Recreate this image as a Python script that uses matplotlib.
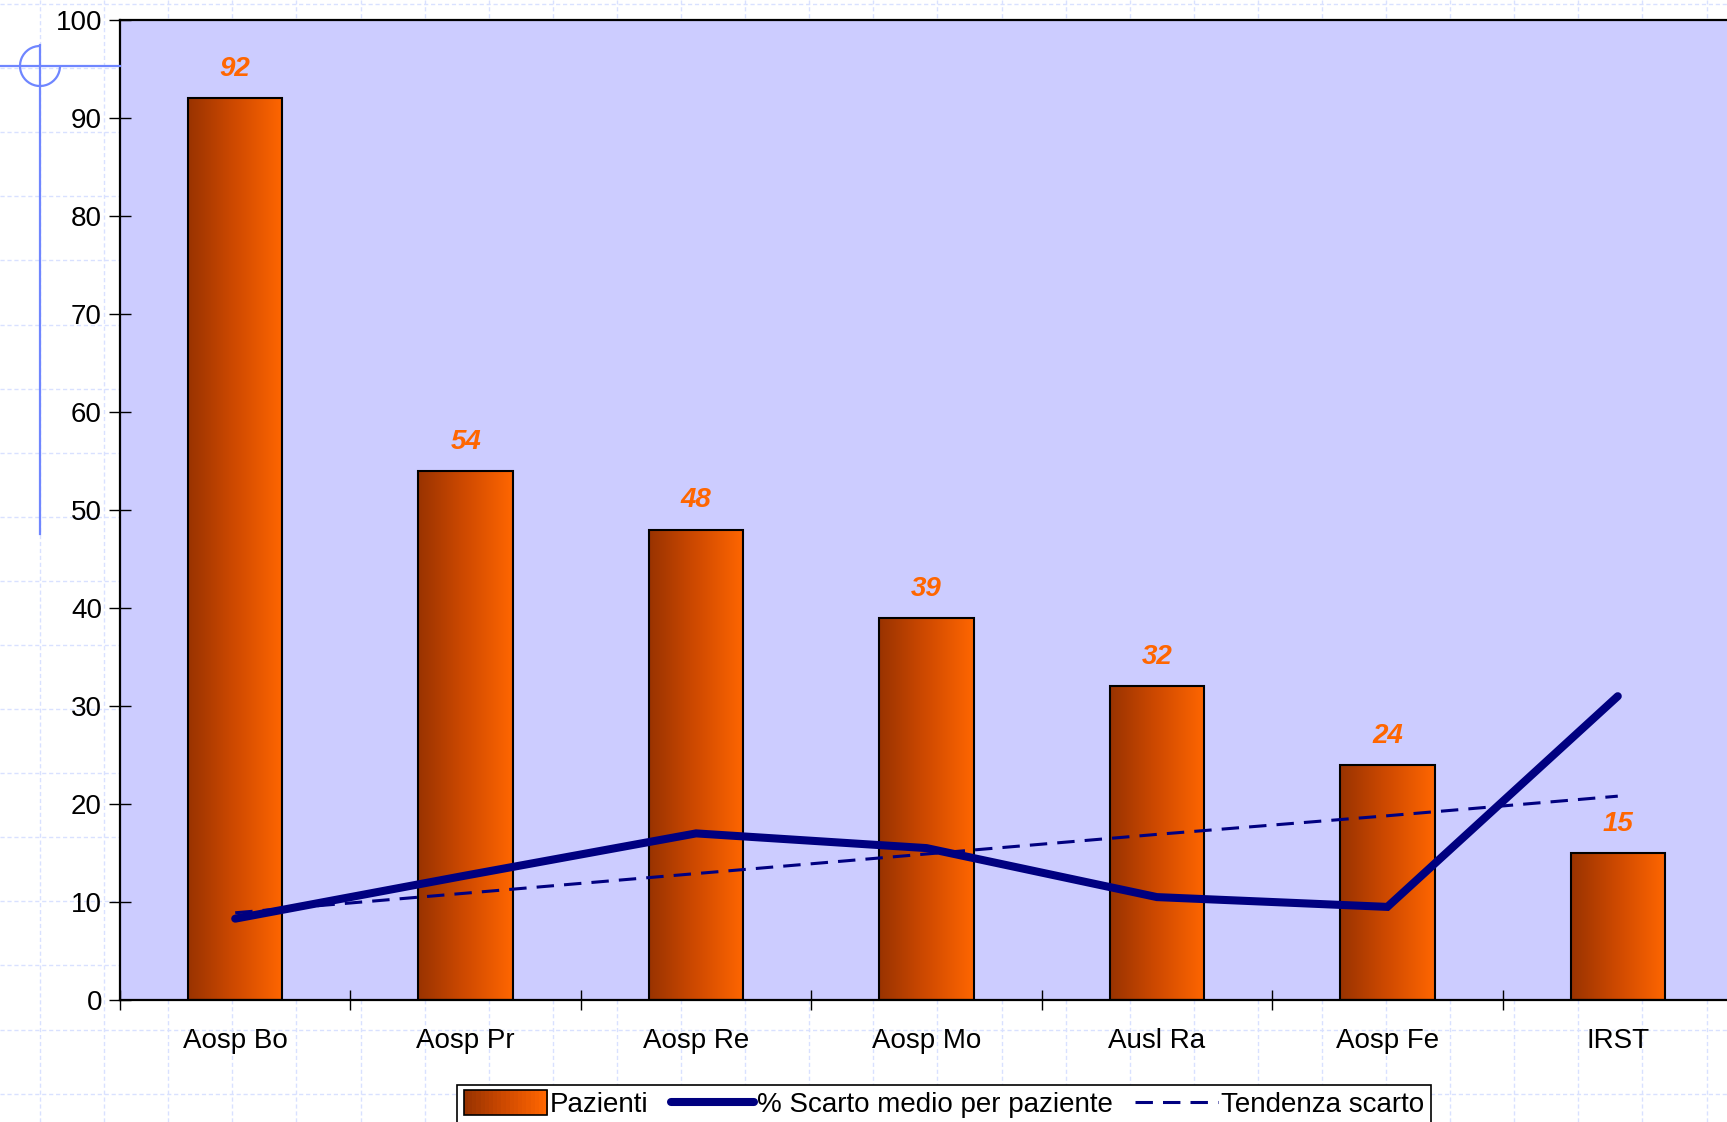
import numpy as np
import matplotlib
matplotlib.use("Agg")
import matplotlib.pyplot as plt
from matplotlib.colors import LinearSegmentedColormap
from matplotlib.lines import Line2D
from matplotlib.patches import Rectangle, Arc
from matplotlib.legend_handler import HandlerBase

plt.rcParams['font.family'] = ['Liberation Sans', 'DejaVu Sans']
plt.rcParams['font.size'] = 20

# data
categories = ['Aosp Bo', 'Aosp Pr', 'Aosp Re', 'Aosp Mo', 'Ausl Ra', 'Aosp Fe', 'IRST']
pazienti = [92, 54, 48, 39, 32, 24, 15]
scarto = [8.3, 12.7, 17.0, 15.5, 10.5, 9.5, 31.0]
tendenza = [8.9, 10.9, 12.9, 14.9, 16.9, 18.8, 20.8]

W, H = 1727, 1122
fig = plt.figure(figsize=(W / 100, H / 100), dpi=100)
fig.patch.set_facecolor('white')

# slide background grid (light blue dashed)
grid_c = '#d9e1ff'
for gx in np.arange(40, W, 64.1):
    fig.add_artist(Line2D([gx / W, gx / W], [0, 1], color=grid_c, lw=1,
                          ls=(0, (3, 2)), zorder=0))
for gy in np.arange(4, H, 64.1):
    fig.add_artist(Line2D([0, 1], [1 - gy / H, 1 - gy / H], color=grid_c, lw=1,
                          ls=(0, (3, 2)), zorder=0))

# crosshair decoration
cross_c = '#6f86ff'
fig.add_artist(Line2D([0, 120 / W], [1 - 66 / H, 1 - 66 / H], color=cross_c, lw=1.6, zorder=1))
fig.add_artist(Line2D([40 / W, 40 / W], [1 - 45 / H, 1 - 534 / H], color=cross_c, lw=1.6, zorder=1))
fig.add_artist(Arc((40 / W, 1 - 66 / H), 40 / W, 40 / H, theta1=90, theta2=360,
                   color=cross_c, lw=1.6, transform=fig.transFigure, zorder=1))

ax = fig.add_axes([120 / W, 1 - 1000 / H, 1613 / W, 980 / H])
ax.set_facecolor('#ccccff')

x = np.arange(len(categories))
w = 0.41
cmap = LinearSegmentedColormap.from_list('bar', ['#993300', '#d04a00', '#ff6600'])
grad = np.linspace(0, 1, 256).reshape(1, -1)
for xi, v in zip(x, pazienti):
    ax.imshow(grad, extent=[xi - w / 2, xi + w / 2, 0, v], aspect='auto',
              cmap=cmap, zorder=2, interpolation='bicubic')
ax.bar(x, pazienti, width=w, facecolor='none', edgecolor='black', lw=1.5, zorder=3)

for xi, v in zip(x, pazienti):
    ax.annotate(str(v), (xi, v), xytext=(0, 21), textcoords='offset points',
                ha='center', va='center', color='#ff6600', fontweight='bold',
                fontstyle='italic', fontsize=20, zorder=5)

ax.plot(x, scarto, color='#000080', lw=5.8, solid_capstyle='round',
        solid_joinstyle='miter', zorder=4)
ax.plot(x, tendenza, color='#000080', lw=2.2, dashes=(5.7, 3.3), zorder=4)

ax.set_xlim(-0.5, 6.5)
ax.set_ylim(0, 100)
ax.set_yticks(np.arange(0, 101, 10))
ax.set_xticks(x)
ax.set_xticklabels(categories)
ax.set_xticks(np.arange(-0.5, 6.6, 1), minor=True)
ax.tick_params(axis='x', which='major', length=0, pad=20, labelsize=20)
ax.tick_params(axis='x', which='minor', direction='inout', length=14, width=1)
ax.tick_params(axis='y', direction='inout', length=16, width=1, pad=5, labelsize=20)
for s in ax.spines.values():
    s.set_linewidth(1.6)
    s.set_color('black')


class GradientHandler(HandlerBase):
    def create_artists(self, legend, orig_handle, xd, yd, width, height, fontsize, trans):
        arts = []
        n = 20
        for k in range(n):
            r = Rectangle((xd + width * k / n, yd - 2), width / n + 0.3, height + 4,
                          facecolor=cmap(k / (n - 1)), edgecolor='none', transform=trans)
            arts.append(r)
        arts.append(Rectangle((xd, yd - 2), width, height + 4, facecolor='none',
                              edgecolor='black', lw=1.2, transform=trans))
        return arts


bar_handle = Rectangle((0, 0), 1, 1)
line_handle = Line2D([], [], color='#000080', lw=5.8, solid_capstyle='round')
dash_handle = Line2D([], [], color='#000080', lw=2.2, dashes=(5.7, 3.3))
leg = fig.legend([bar_handle, line_handle, dash_handle],
                 ['Pazienti', '% Scarto medio per paziente', 'Tendenza scarto'],
                 handler_map={Rectangle: GradientHandler()},
                 loc='upper left', bbox_to_anchor=(457 / W, 1 - 1085 / H),
                 bbox_transform=fig.transFigure, borderaxespad=0, ncol=3, fontsize=20,
                 handlelength=3.0, handletextpad=0.1, columnspacing=0.8,
                 borderpad=0.25, fancybox=False, framealpha=1, edgecolor='black')
leg.get_frame().set_linewidth(1.2)

fig.savefig('out.png', dpi=100)
